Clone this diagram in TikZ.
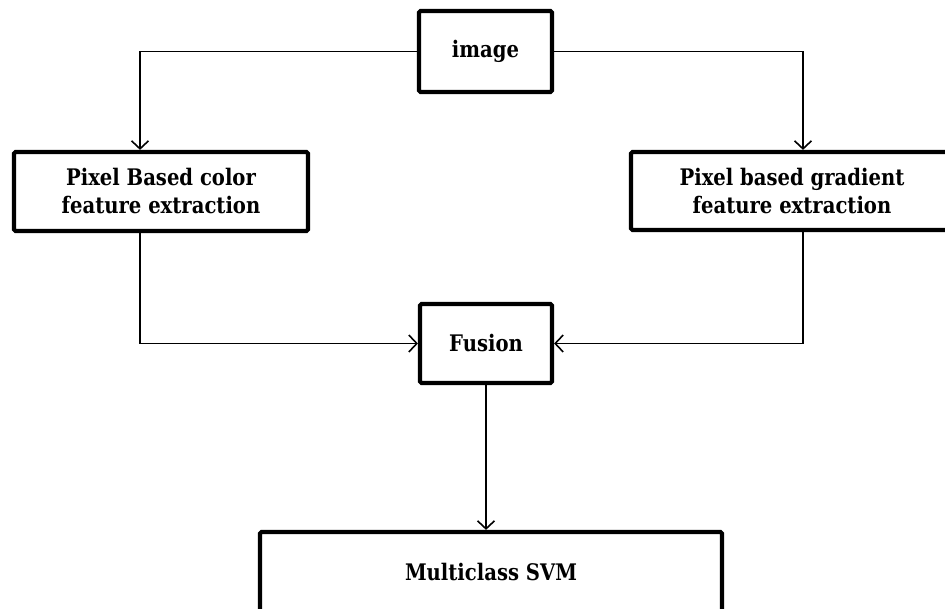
\documentclass[tikz,border=0pt]{standalone}
\usepackage{fontspec}
\setmainfont{DejaVu Serif}[FakeStretch=0.86]
\usetikzlibrary{arrows.meta}
\tikzset{
  box/.style={draw=black, line width=4.2pt, rounded corners=1.5pt, fill=white,
    inner sep=0pt, align=center, font=\fontsize{22.8}{28}\selectfont\bfseries},
  conn/.style={draw=black, line width=1.6pt,
    -{Straight Barb[length=8pt,width=17pt,line width=1.6pt]}}
}
\begin{document}
\begin{tikzpicture}[x=1pt,y=-1pt]
\clip (0,0) rectangle (945,609);
\fill[white] (0,0) rectangle (945,609);
\node[box, minimum width=133pt, minimum height=81pt] (img) at (485.5,51.5) {image};
\node[box, minimum width=294pt, minimum height=79pt] (lbox) at (161,191.5) {Pixel Based color\\feature extraction};
\node[box, minimum width=322pt, minimum height=78pt] (rbox) at (792,191) {Pixel based gradient\\feature extraction};
\node[box, minimum width=132pt, minimum height=79pt] (fus) at (486,343.5) {Fusion};
\node[box, minimum width=462pt, minimum height=80pt] (svm) at (491,572) {Multiclass SVM};
\coordinate (lx) at (140,0);
\coordinate (rx) at (803,0);
\draw[conn] (img.west) -| (lbox.north -| lx);
\draw[conn] (img.east) -| (rbox.north -| rx);
\draw[conn] (lbox.south -| lx) |- (fus.west);
\draw[conn] (rbox.south -| rx) |- (fus.east);
\draw[conn] (fus.south) -- (svm.north -| fus.south);
\end{tikzpicture}
\end{document}
